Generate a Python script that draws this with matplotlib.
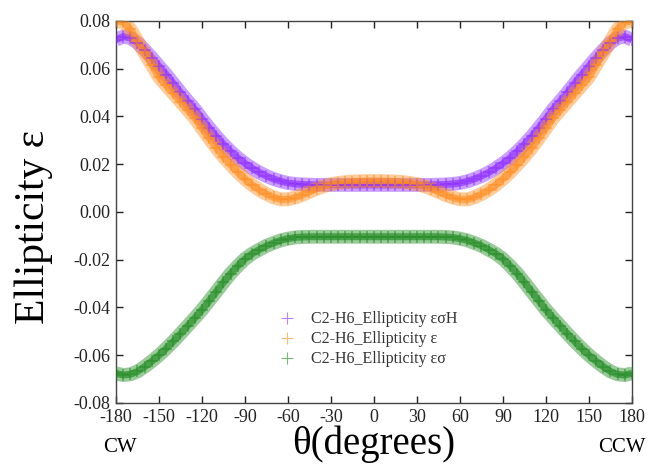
import matplotlib
matplotlib.use("Agg")
import matplotlib.pyplot as plt
import numpy as np

plt.rcParams["font.family"] = ["Liberation Serif", "DejaVu Serif"]
plt.rcParams["axes.unicode_minus"] = False

# rotation angle (degrees), read every 5 degrees
theta = [
    -180, -175, -170, -165, -160, -155, -150, -145, -140, -135, -130, -125,
    -120, -115, -110, -105, -100, -95, -90, -85, -80, -75, -70, -65,
    -60, -55, -50, -45, -40, -35, -30, -25, -20, -15, -10, -5,
    0, 5, 10, 15, 20, 25, 30, 35, 40, 45, 50, 55,
    60, 65, 70, 75, 80, 85, 90, 95, 100, 105, 110, 115,
    120, 125, 130, 135, 140, 145, 150, 155, 160, 165, 170, 175, 180,
]

eps_sigma_h = [
    0.0721, 0.0734, 0.0728, 0.0708, 0.0678, 0.0645, 0.0610, 0.0575, 0.0538, 0.0500, 0.0464, 0.0430,
    0.0390, 0.0352, 0.0316, 0.0283, 0.0253, 0.0226, 0.0203, 0.0183, 0.0165, 0.0150, 0.0138, 0.0128,
    0.0121, 0.0117, 0.0115, 0.0114, 0.0113, 0.0113, 0.0113, 0.0113, 0.0113, 0.0113, 0.0113, 0.0113,
    0.0113, 0.0113, 0.0113, 0.0113, 0.0113, 0.0113, 0.0113, 0.0113, 0.0113, 0.0114, 0.0115, 0.0117,
    0.0121, 0.0128, 0.0138, 0.0150, 0.0165, 0.0183, 0.0203, 0.0226, 0.0253, 0.0283, 0.0316, 0.0352,
    0.0390, 0.0430, 0.0464, 0.0500, 0.0538, 0.0575, 0.0610, 0.0645, 0.0678, 0.0708, 0.0728, 0.0734, 0.0721,
]

eps = [
    0.0800, 0.0795, 0.0765, 0.0715, 0.0665, 0.0615, 0.0565, 0.0530, 0.0496, 0.0462, 0.0427, 0.0393,
    0.0350, 0.0308, 0.0268, 0.0231, 0.0198, 0.0166, 0.0138, 0.0113, 0.0092, 0.0075, 0.0061, 0.0052,
    0.0053, 0.0060, 0.0071, 0.0084, 0.0097, 0.0108, 0.0116, 0.0121, 0.0125, 0.0127, 0.0128, 0.0129,
    0.0129, 0.0129, 0.0128, 0.0127, 0.0125, 0.0121, 0.0116, 0.0108, 0.0097, 0.0084, 0.0071, 0.0060,
    0.0053, 0.0052, 0.0061, 0.0075, 0.0092, 0.0113, 0.0138, 0.0166, 0.0198, 0.0231, 0.0268, 0.0308,
    0.0350, 0.0393, 0.0427, 0.0462, 0.0496, 0.0530, 0.0565, 0.0615, 0.0665, 0.0715, 0.0765, 0.0795, 0.0800,
]

eps_sigma = [
    -0.0676, -0.0683, -0.0680, -0.0668, -0.0648, -0.0625, -0.0600, -0.0572, -0.0542, -0.0510, -0.0477, -0.0444,
    -0.0410, -0.0372, -0.0334, -0.0295, -0.0258, -0.0226, -0.0197, -0.0175, -0.0158, -0.0142, -0.0130, -0.0119,
    -0.0112, -0.0107, -0.0105, -0.0104, -0.0104, -0.0104, -0.0104, -0.0104, -0.0104, -0.0104, -0.0104, -0.0104,
    -0.0104, -0.0104, -0.0104, -0.0104, -0.0104, -0.0104, -0.0104, -0.0104, -0.0104, -0.0104, -0.0105, -0.0107,
    -0.0112, -0.0119, -0.0130, -0.0142, -0.0158, -0.0175, -0.0197, -0.0226, -0.0258, -0.0295, -0.0334, -0.0372,
    -0.0410, -0.0444, -0.0477, -0.0510, -0.0542, -0.0572, -0.0600, -0.0625, -0.0648, -0.0668, -0.0680, -0.0683, -0.0676,
]

labels = [
    "C2-H6_Ellipticity εσH",
    "C2-H6_Ellipticity ε",
    "C2-H6_Ellipticity εσ",
]
colors = ["#8c2bff", "#ff8c1f", "#1f8a1f"]

xticks = np.arange(-180, 181, 30)
yticks = np.arange(-0.08, 0.081, 0.02)


def main() -> None:
    fig = plt.figure(figsize=(6.59, 4.73), dpi=100)
    ax = fig.add_axes([0.176, 0.148, 0.783, 0.808])

    for ys, col, lab in zip([eps_sigma_h, eps, eps_sigma], colors, labels):
        # wide translucent band under dense + markers
        ax.plot(theta, ys, color=col, linewidth=10, alpha=0.45, solid_capstyle="butt", zorder=2)
        ax.plot(theta, ys, color=col, linewidth=5, alpha=0.65, solid_capstyle="butt", zorder=2)
        ax.plot(theta, ys, linestyle="none", marker="+", markersize=9, markeredgewidth=1.2,
                color=col, alpha=0.55, zorder=3)
        ax.plot([], [], linestyle="none", marker="+", markersize=8, markeredgewidth=0.8,
                color=col, alpha=0.6, label=lab)

    ax.set_xlim(-180, 180)
    ax.set_ylim(-0.08, 0.08)
    ax.set_xticks(xticks)
    ax.set_yticks(yticks)
    ax.set_yticklabels([f"{v:.2f}" for v in yticks])
    ax.tick_params(direction="in", length=5, width=1, top=True, right=True,
                   labelsize=13, colors="#222222", pad=4)
    for sp in ax.spines.values():
        sp.set_color("#444444")
        sp.set_linewidth(1)

    ax.set_ylabel("Ellipticity ε", fontsize=30)
    ax.yaxis.set_label_coords(-0.122, 0.46)
    ax.set_xlabel("θ(degrees)", fontsize=28)
    ax.xaxis.set_label_coords(0.5, -0.06)

    fig.text(103 / 659, 1 - 447 / 473, "CW", fontsize=15, ha="left", va="center")
    fig.text(646 / 659, 1 - 447 / 473, "CCW", fontsize=15, ha="right", va="center")

    leg = ax.legend(loc="upper left", bbox_to_anchor=(0.313, 0.24), frameon=False,
                    fontsize=11.5, handlelength=1.2, handletextpad=0.9, labelspacing=0.25,
                    borderpad=0, borderaxespad=0)
    for t in leg.get_texts():
        t.set_color("#333333")

    fig.savefig("out.png", dpi=100)
    plt.close(fig)


if __name__ == "__main__":
    main()
